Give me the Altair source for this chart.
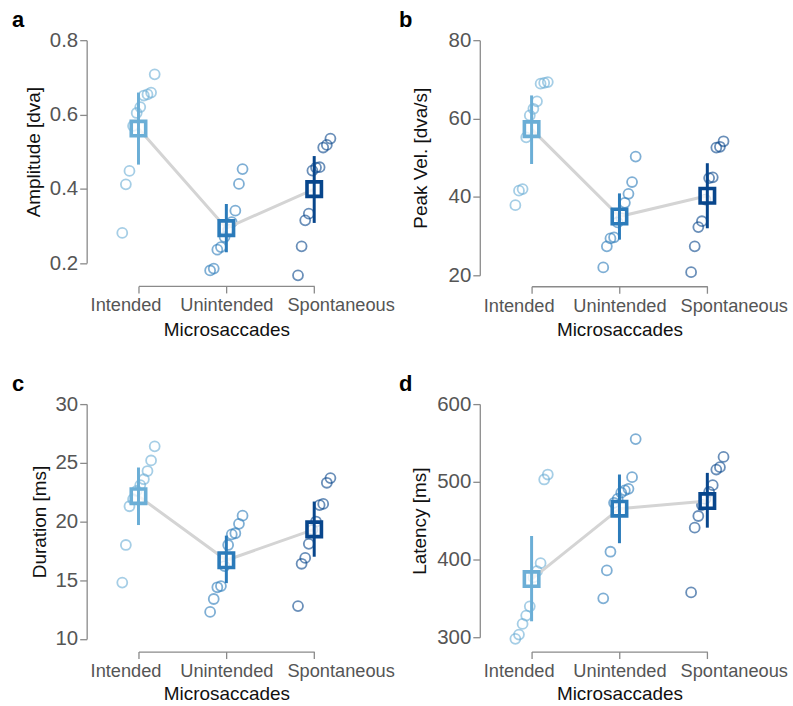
import altair as alt
import pandas as pd

conditions = ["Intended", "Unintended", "Spontaneous"]
colors = ["#6baed6", "#2b7bba", "#08468c"]

# panel a: Amplitude [dva]
amp_intended = [0.281, 0.412, 0.448, 0.569, 0.604, 0.620, 0.651, 0.654, 0.659, 0.708]
amp_unintended = [0.180, 0.185, 0.236, 0.243, 0.270, 0.290, 0.310, 0.341, 0.413, 0.453]
amp_spontaneous = [0.167, 0.245, 0.315, 0.333, 0.449, 0.457, 0.458, 0.511, 0.518, 0.535]
amp_mean = [0.562, 0.294, 0.399]
amp_lo = [0.465, 0.229, 0.308]
amp_hi = [0.659, 0.359, 0.488]
amp_ticks = [0.2, 0.4, 0.6, 0.8]

# panel b: Peak Vel. [dva/s]
vel_intended = [37.9, 41.6, 42.0, 55.2, 60.8, 62.5, 64.4, 68.9, 69.1, 69.3]
vel_unintended = [22.0, 27.4, 29.4, 29.7, 33.5, 34.6, 38.5, 40.8, 43.8, 50.3]
vel_spontaneous = [20.8, 27.4, 32.3, 33.8, 39.3, 44.8, 45.0, 52.6, 52.8, 54.2]
vel_mean = [57.3, 35.0, 40.3]
vel_lo = [48.4, 29.1, 32.0]
vel_hi = [65.9, 40.9, 48.6]
vel_ticks = [20, 40, 60, 80]

# panel c: Duration [ms]
dur_intended = [14.8, 18.0, 21.3, 21.9, 22.6, 23.1, 23.6, 24.3, 25.2, 26.4]
dur_unintended = [12.3, 13.4, 14.4, 14.5, 16.2, 18.0, 18.9, 19.0, 19.8, 20.5]
dur_spontaneous = [12.8, 16.4, 16.9, 18.1, 19.3, 20.0, 21.4, 21.5, 23.3, 23.7]
dur_mean = [22.16, 16.7, 19.33]
dur_lo = [19.7, 14.75, 17.0]
dur_hi = [24.6, 18.8, 21.7]
dur_ticks = [10, 15, 20, 25, 30]

# panel d: Latency [ms]
lat_intended = [297.9, 303.4, 317.1, 327.8, 339.7, 377, 385, 395.3, 503, 509.4]
lat_unintended = [350, 386, 410, 473, 478, 486, 489, 491, 506, 555]
lat_spontaneous = [357.7, 441, 456, 470, 478, 487, 495.7, 515.8, 518.8, 532]
lat_mean = [374.8, 465.4, 475.2]
lat_lo = [320.5, 421, 441]
lat_hi = [430.3, 509.4, 511.5]
lat_ticks = [300, 400, 500, 600]

FONT = "Liberation Sans"
label_expr = "[" + ",".join("'%s'" % c for c in conditions) + "][datum.value - 1]"
label_shift = {"condition": [{"test": "datum.value == 1", "value": -13},
                             {"test": "datum.value == 3", "value": 26.5}],
               "value": 0}


def panel(letter, ytitle, groups, mean, lo, hi, ticks, fmt, height, x_off, xtitle_pad, ytitle_pad, letter_dx):
    rows = []
    for ci, arr in enumerate(groups):
        n = len(arr)
        for r, v in enumerate(sorted(arr)):
            rows.append({"pos": ci + 1 + (r - (n - 1) / 2) * 0.041, "value": v, "name": conditions[ci]})
    pts = pd.DataFrame(rows)
    summ = pd.DataFrame({"cond": [1, 2, 3], "name": conditions, "mean": mean, "lo": lo, "hi": hi})

    xscale = alt.Scale(domain=[1, 3], nice=False, zero=False)
    yscale = alt.Scale(domain=[ticks[0], ticks[-1]], nice=False, zero=False)
    cscale = alt.Scale(domain=conditions, range=colors)

    xaxis = alt.Axis(values=[1, 2, 3], labelExpr=label_expr, title="Microsaccades", offset=x_off,
                     grid=False, domainColor="#8a8a8a", tickColor="#8a8a8a", tickSize=7,
                     domainWidth=1.3, tickWidth=1.3,
                     labelFont=FONT, labelFontSize=18.3, labelColor="#555555", labelPadding=4,
                     labelOffset=label_shift,
                     titleFont=FONT, titleFontSize=19, titleFontWeight="normal", titleColor="#111111",
                     titlePadding=xtitle_pad, labelFlush=False, labelOverlap=False)
    yaxis = alt.Axis(values=ticks, format=fmt, title=ytitle, offset=52,
                     grid=False, domainColor="#8a8a8a", tickColor="#8a8a8a", tickSize=7,
                     domainWidth=1.3, tickWidth=1.3,
                     labelFont=FONT, labelFontSize=20.5, labelColor="#555555", labelPadding=2,
                     titleFont=FONT, titleFontSize=19, titleFontWeight="normal", titleColor="#111111",
                     titlePadding=ytitle_pad, labelFlush=False)

    points = alt.Chart(pts).mark_point(shape="circle", filled=False, size=100, strokeWidth=1.8, opacity=0.6).encode(
        x=alt.X("pos:Q", scale=xscale, axis=xaxis),
        y=alt.Y("value:Q", scale=yscale, axis=yaxis),
        color=alt.Color("name:N", scale=cscale, legend=None),
    )
    line = alt.Chart(summ).mark_line(color="#d4d4d4", strokeWidth=3).encode(
        x=alt.X("cond:Q", scale=xscale),
        y=alt.Y("mean:Q", scale=yscale),
    )
    squares = alt.Chart(summ).mark_point(shape="square", size=210, strokeWidth=3.6, opacity=1,
                                         fill="white", fillOpacity=0.75).encode(
        x=alt.X("cond:Q", scale=xscale),
        y=alt.Y("mean:Q", scale=yscale),
        stroke=alt.Stroke("name:N", scale=cscale, legend=None),
    )
    rules = alt.Chart(summ).mark_rule(strokeWidth=3).encode(
        x=alt.X("cond:Q", scale=xscale),
        y=alt.Y("lo:Q", scale=yscale),
        y2="hi:Q",
        color=alt.Color("name:N", scale=cscale, legend=None),
    )
    return alt.layer(points, line, squares, rules).properties(
        width=176.4, height=height,
        title=alt.TitleParams(letter, anchor="start", frame="group", dx=letter_dx, dy=33, font=FONT,
                              fontSize=22, fontWeight="bold", color="black", baseline="alphabetic", offset=14),
    )


pa = panel("a", "Amplitude [dva]", [amp_intended, amp_unintended, amp_spontaneous],
           amp_mean, amp_lo, amp_hi, amp_ticks, ".1f", 223.7, 23, 6, 6, -127)
pb = panel("b", "Peak Vel. [dva/s]", [vel_intended, vel_unintended, vel_spontaneous],
           vel_mean, vel_lo, vel_hi, vel_ticks, "d", 236, 11, 6, 18, -133)
pc = panel("c", "Duration [ms]", [dur_intended, dur_unintended, dur_spontaneous],
           dur_mean, dur_lo, dur_hi, dur_ticks, "d", 235.7, 12.7, 5, 6, -127)
pd_ = panel("d", "Latency [ms]", [lat_intended, lat_unintended, lat_spontaneous],
            lat_mean, lat_lo, lat_hi, lat_ticks, "d", 234, 14.4, 5, 7, -133)

chart = alt.concat(pa, pb, pc, pd_, columns=2, spacing={"row": 129.3, "column": 217.6}, bounds="flush").properties(
    padding={"left": 12, "top": 8, "right": 5, "bottom": 0},
    background="white",
).configure_view(strokeWidth=0)

chart.save("out.html", embed_options={"renderer": "svg", "actions": False})
